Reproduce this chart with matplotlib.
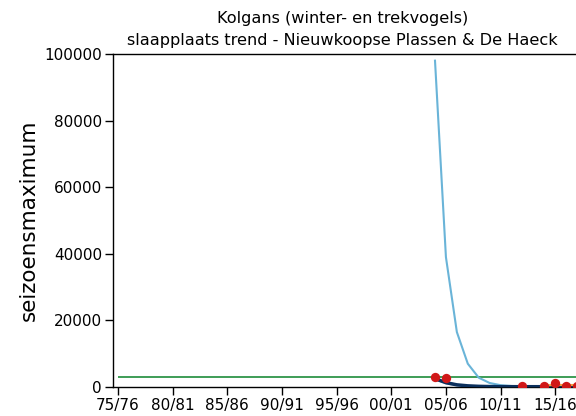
import numpy as np
import matplotlib
matplotlib.use('Agg')
from matplotlib import pyplot as plt

# === data ===
seasons = np.arange(1975, 2016, 5)
season_labels = ['75/76', '80/81', '85/86', '90/91', '95/96', '00/01', '05/06', '10/11', '15/16']

count_years = [2004, 2005, 2012, 2014, 2015, 2016, 2017]
count_values = [2900, 2800, 250, 300, 1200, 350, 300]

fit_years = [2004, 2005, 2006, 2007, 2008, 2009, 2010, 2011, 2012, 2013, 2014, 2015, 2016, 2017]
fit_values = [98000, 39000, 16500, 7000, 2800, 1200, 550, 300, 180, 130, 110, 100, 100, 100]

trend_years = [2004, 2005, 2006, 2007, 2008, 2009, 2010, 2012, 2014, 2016, 2017]
trend_values = [2500, 1300, 650, 350, 200, 130, 100, 90, 90, 90, 90]
trend_upper = [2900, 1900, 1100, 700, 450, 300, 230, 200, 200, 200, 200]
trend_lower = [2100, 900, 350, 150, 60, 30, 20, 15, 15, 15, 15]

recent_years = [2014, 2015, 2016, 2017]
recent_values = [500, 600, 600, 600]

mean_level = 2900
mean_start = 1975

fig = plt.figure(figsize=(5.76, 4.16), dpi=100)
ax = fig.add_axes([113 / 576, 1 - 387 / 416, 1 - 113 / 576, (387 - 54) / 416])

ax.hlines(mean_level, mean_start, 2020, color='#1e8c3a', lw=1.2, zorder=2)
ax.plot(fit_years, fit_values, color='#6ab4d8', lw=1.5, zorder=3)
ax.fill_between(trend_years, trend_lower, trend_upper, color='#1d4f82', alpha=0.45, lw=0, zorder=3)
ax.plot(trend_years, trend_values, color='#0b2f5c', lw=2.5, zorder=4)
ax.plot(recent_years, recent_values, color='#f0a040', lw=1.5, zorder=4)
ax.scatter(count_years, count_values, s=45, color='#d01818', zorder=5, lw=0)

ax.set_xticks(seasons)
ax.set_xticklabels(season_labels, fontsize=11)
ax.set_yticks(np.arange(0, 100001, 20000))
ax.set_yticklabels([str(v) for v in range(0, 100001, 20000)], fontsize=11)
ax.set_xlim(1974.54, 2016.9)
ax.set_ylim(0, 100000)
ax.tick_params(axis='both', length=6, width=1, pad=2)
ax.set_ylabel('seizoensmaximum', fontsize=15.5, labelpad=4)

ax.spines['right'].set_visible(False)
for s in ['left', 'bottom', 'top']:
    ax.spines[s].set_linewidth(1)

fig.text(0.595, 0.955, 'Kolgans (winter- en trekvogels)', ha='center', va='center', fontsize=11.6)
fig.text(0.595, 0.903, 'slaapplaats trend - Nieuwkoopse Plassen & De Haeck', ha='center', va='center', fontsize=11.6)

fig.savefig('out.png', dpi=100)
